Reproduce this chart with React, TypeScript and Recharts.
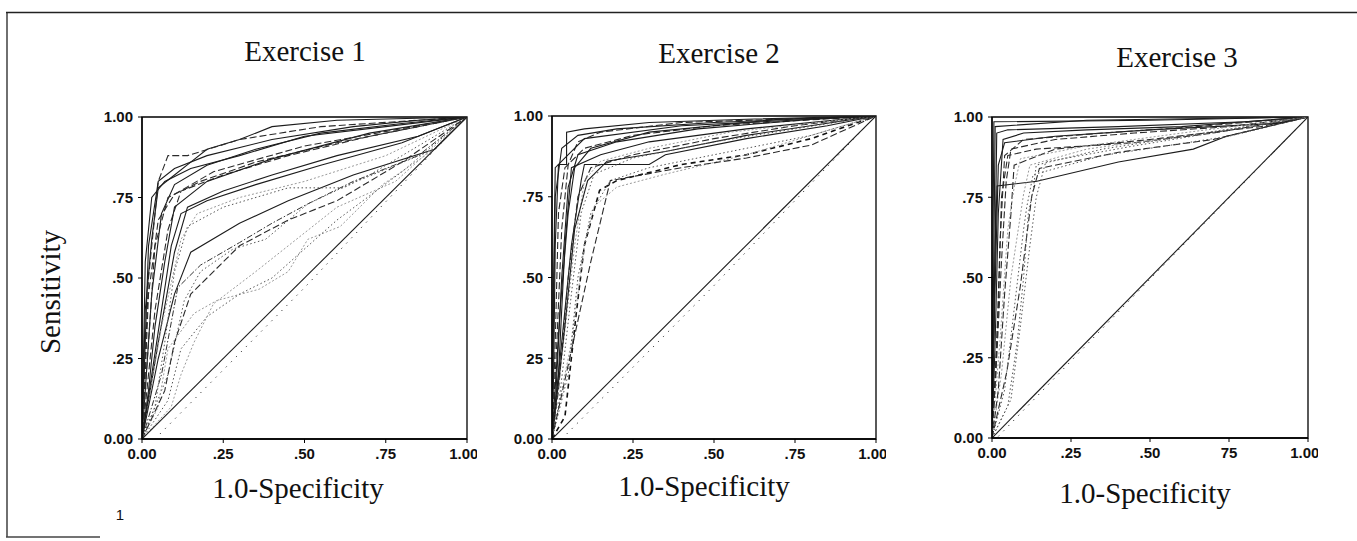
import React from "react";
import { LineChart, Line, XAxis, YAxis, ReferenceArea } from "recharts";

type Pt = [number, number];

const tickValues = [0, 0.25, 0.5, 0.75, 1];
const ex1XLabels = ["0.00", ".25", ".50", ".75", "1.00"];
const ex1YLabels = ["0.00", ".25", ".50", ".75", "1.00"];
const ex2XLabels = ["0.00", ".25", ".50", ".75", "1.00"];
const ex2YLabels = ["0.00", "25", ".50", ".75", "1.00"];
const ex3XLabels = ["0.00", ".25", ".50", "75", "1.00"];
const ex3YLabels = ["0.00", ".25", ".50", ".75", "1.00"];

const titles = ["Exercise 1", "Exercise 2", "Exercise 3"];

// chance line + the dotted reference line just under it
const diagonal: Pt[] = [[0, 0], [1, 1]];
const ex1RefDots: Pt[] = [[0.04, 0], [0.5, 0.47], [0.95, 0.95], [1, 1]];
const ex2RefDots: Pt[] = [[0.03, 0], [0.5, 0.475], [0.97, 0.97], [1, 1]];
const ex3RefDots: Pt[] = [[0.02, 0.005], [0.5, 0.495], [1, 1]];

// ROC curves (1-specificity, sensitivity)
const ex1Curves: Pt[][] = [
  [[0, 0], [0.01, 0.4], [0.03, 0.62], [0.05, 0.78], [0.1, 0.82], [0.15, 0.86], [0.2, 0.9], [0.3, 0.93], [0.4, 0.97], [0.6, 0.99], [1, 1]],
  [[0, 0], [0.02, 0.5], [0.05, 0.8], [0.08, 0.88], [0.14, 0.88], [0.3, 0.93], [0.55, 0.97], [1, 1]],
  [[0, 0], [0.03, 0.45], [0.06, 0.7], [0.1, 0.79], [0.2, 0.85], [0.35, 0.9], [0.55, 0.95], [0.8, 0.98], [1, 1]],
  [[0, 0], [0.04, 0.4], [0.08, 0.65], [0.12, 0.77], [0.25, 0.82], [0.45, 0.88], [0.7, 0.94], [1, 1]],
  [[0, 0], [0.05, 0.3], [0.1, 0.58], [0.14, 0.72], [0.25, 0.77], [0.4, 0.82], [0.6, 0.88], [0.85, 0.94], [1, 1]],
  [[0, 0], [0.06, 0.35], [0.12, 0.62], [0.17, 0.7], [0.3, 0.75], [0.5, 0.8], [0.75, 0.88], [1, 1]],
  [[0, 0], [0.05, 0.25], [0.1, 0.45], [0.15, 0.58], [0.3, 0.67], [0.45, 0.74], [0.65, 0.82], [0.9, 0.9], [1, 1]],
  [[0, 0], [0.06, 0.2], [0.11, 0.47], [0.18, 0.54], [0.3, 0.61], [0.4, 0.67], [0.51, 0.73], [0.65, 0.8], [0.85, 0.88], [1, 1]],
  [[0, 0], [0.08, 0.2], [0.13, 0.43], [0.18, 0.52], [0.28, 0.59], [0.38, 0.62], [0.51, 0.73], [0.7, 0.82], [1, 1]],
  [[0, 0], [0.05, 0.1], [0.08, 0.28], [0.16, 0.39], [0.23, 0.43], [0.36, 0.465], [0.45, 0.52], [0.51, 0.62], [0.61, 0.66], [0.74, 0.79], [0.9, 0.9], [1, 1]],
  [[0, 0], [0.07, 0.15], [0.1, 0.3], [0.15, 0.45], [0.2, 0.5], [0.3, 0.6], [0.45, 0.68], [0.6, 0.74], [0.8, 0.86], [1, 1]],
  [[0, 0], [0.08, 0.12], [0.12, 0.28], [0.2, 0.38], [0.3, 0.45], [0.4, 0.5], [0.6, 0.68], [0.8, 0.83], [1, 1]],
  [[0, 0], [0.01, 0.55], [0.03, 0.75], [0.07, 0.8], [0.15, 0.84], [0.3, 0.88], [0.5, 0.94], [0.75, 0.97], [1, 1]],
  [[0, 0], [0.02, 0.3], [0.04, 0.6], [0.08, 0.75], [0.18, 0.8], [0.35, 0.86], [0.6, 0.92], [1, 1]],
  [[0, 0], [0.03, 0.2], [0.06, 0.4], [0.09, 0.6], [0.12, 0.7], [0.2, 0.74], [0.35, 0.79], [0.55, 0.85], [0.8, 0.92], [1, 1]],
  [[0, 0], [0.04, 0.1], [0.07, 0.3], [0.1, 0.52], [0.14, 0.66], [0.25, 0.72], [0.45, 0.78], [0.62, 0.78], [0.66, 0.8], [0.9, 0.9], [1, 1]],
  [[0, 0], [0.02, 0.15], [0.04, 0.35], [0.07, 0.55], [0.1, 0.72], [0.2, 0.8], [0.4, 0.87], [0.7, 0.95], [1, 1]],
  [[0, 0], [0.01, 0.2], [0.02, 0.45], [0.05, 0.68], [0.1, 0.76], [0.22, 0.83], [0.5, 0.91], [1, 1]],
  [[0, 0], [0.02, 0.6], [0.05, 0.8], [0.1, 0.84], [0.2, 0.88], [0.4, 0.93], [0.65, 0.97], [0.85, 0.99], [1, 1]],
  [[0, 0], [0.09, 0.1], [0.12, 0.2], [0.16, 0.3], [0.22, 0.42], [0.35, 0.52], [0.45, 0.6], [0.6, 0.72], [0.78, 0.8], [1, 1]],
];
const ex1Kinds = ["solid", "dash", "solid", "dash", "solid", "grey", "solid", "dashdot", "dot", "grey", "dash", "dot", "solid", "dash", "solid", "dot", "solid", "dash", "solid", "grey"];

const ex2Curves: Pt[][] = [
  [[0, 0], [0.005, 0.2], [0.01, 0.6], [0.02, 0.85], [0.045, 0.85], [0.045, 0.95], [0.1, 0.96], [0.3, 0.98], [0.6, 0.99], [1, 1]],
  [[0, 0], [0.01, 0.3], [0.02, 0.7], [0.04, 0.84], [0.1, 0.9], [0.25, 0.94], [0.5, 0.97], [1, 1]],
  [[0, 0], [0.02, 0.2], [0.04, 0.6], [0.06, 0.84], [0.15, 0.88], [0.3, 0.92], [0.6, 0.96], [1, 1]],
  [[0, 0], [0.04, 0.07], [0.075, 0.39], [0.1, 0.6], [0.147, 0.77], [0.2, 0.8], [0.4, 0.85], [0.6, 0.88], [0.8, 0.93], [1, 1]],
  [[0, 0], [0.06, 0.3], [0.1, 0.6], [0.13, 0.72], [0.2, 0.78], [0.35, 0.82], [0.6, 0.88], [1, 1]],
  [[0, 0], [0.03, 0.3], [0.06, 0.6], [0.09, 0.8], [0.1, 0.85], [0.3, 0.85], [0.35, 0.88], [0.6, 0.93], [0.85, 0.97], [1, 1]],
  [[0, 0], [0.02, 0.15], [0.05, 0.5], [0.08, 0.75], [0.12, 0.84], [0.25, 0.88], [0.5, 0.93], [0.75, 0.97], [1, 1]],
  [[0, 0], [0.01, 0.1], [0.03, 0.5], [0.05, 0.78], [0.08, 0.88], [0.2, 0.92], [0.45, 0.96], [0.8, 0.99], [1, 1]],
  [[0, 0], [0.05, 0.2], [0.08, 0.5], [0.12, 0.7], [0.18, 0.8], [0.3, 0.84], [0.55, 0.89], [0.8, 0.94], [1, 1]],
  [[0, 0], [0.03, 0.25], [0.07, 0.6], [0.1, 0.8], [0.15, 0.86], [0.3, 0.9], [0.55, 0.95], [1, 1]],
  [[0, 0], [0.005, 0.4], [0.01, 0.75], [0.03, 0.9], [0.08, 0.94], [0.2, 0.96], [0.5, 0.98], [1, 1]],
  [[0, 0], [0.015, 0.3], [0.03, 0.65], [0.05, 0.85], [0.08, 0.92], [0.15, 0.95], [0.4, 0.98], [1, 1]],
  [[0, 0], [0.04, 0.35], [0.07, 0.65], [0.11, 0.8], [0.17, 0.86], [0.35, 0.89], [0.6, 0.94], [1, 1]],
  [[0, 0], [0.02, 0.1], [0.06, 0.45], [0.09, 0.7], [0.13, 0.82], [0.25, 0.87], [0.5, 0.92], [1, 1]],
  [[0, 0], [0.12, 0.55], [0.18, 0.8], [0.4, 0.84], [0.6, 0.87], [0.8, 0.91], [1, 1]],
  [[0, 0], [0.025, 0.4], [0.05, 0.7], [0.07, 0.84], [0.12, 0.9], [0.3, 0.95], [0.7, 0.99], [1, 1]],
  [[0, 0], [0.002, 0.17], [0.005, 0.5], [0.01, 0.84], [0.03, 0.86], [0.1, 0.93], [0.4, 0.97], [1, 1]],
];
const ex2Kinds = ["solid", "dash", "solid", "dashBold", "grey", "solid", "dash", "solid", "dot", "grey", "solid", "dash", "solid", "dot", "dash", "solid", "solid"];

const ex3Curves: Pt[][] = [
  [[0, 0], [0.005, 0.5], [0.01, 0.97], [0.3, 0.99], [1, 1]],
  [[0, 0], [0.01, 0.6], [0.015, 0.95], [0.05, 0.96], [0.4, 0.97], [0.8, 0.985], [1, 1]],
  [[0, 0], [0.005, 0.3], [0.01, 0.6], [0.016, 0.785], [0.142, 0.8], [0.4, 0.86], [0.637, 0.9], [0.742, 0.94], [1, 1]],
  [[0, 0], [0.02, 0.4], [0.03, 0.75], [0.05, 0.88], [0.14, 0.9], [0.45, 0.92], [0.7, 0.95], [1, 1]],
  [[0, 0], [0.047, 0.207], [0.09, 0.475], [0.126, 0.754], [0.15, 0.84], [0.4, 0.89], [0.7, 0.93], [1, 1]],
  [[0, 0], [0.03, 0.2], [0.06, 0.5], [0.1, 0.76], [0.12, 0.85], [0.3, 0.9], [0.6, 0.94], [1, 1]],
  [[0, 0], [0.01, 0.3], [0.02, 0.7], [0.035, 0.93], [0.1, 0.95], [0.3, 0.96], [0.6, 0.97], [1, 1]],
  [[0, 0], [0.02, 0.15], [0.04, 0.45], [0.06, 0.7], [0.07, 0.85], [0.2, 0.9], [0.5, 0.93], [0.85, 0.97], [1, 1]],
  [[0, 0], [0.04, 0.15], [0.07, 0.4], [0.1, 0.65], [0.11, 0.72], [0.13, 0.82], [0.35, 0.88], [0.75, 0.94], [1, 1]],
  [[0, 0], [0.008, 0.4], [0.02, 0.85], [0.04, 0.92], [0.2, 0.94], [0.5, 0.96], [0.9, 0.98], [1, 1]],
  [[0, 0], [0.015, 0.25], [0.03, 0.55], [0.045, 0.8], [0.06, 0.9], [0.2, 0.93], [0.45, 0.95], [0.75, 0.97], [1, 1]],
  [[0, 0], [0.05, 0.1], [0.08, 0.3], [0.1, 0.5], [0.115, 0.7], [0.13, 0.77], [0.14, 0.85], [0.35, 0.9], [1, 1]],
  [[0, 0], [0.003, 0.6], [0.006, 0.985], [0.5, 0.99], [1, 1]],
  [[0, 0], [0.025, 0.3], [0.05, 0.65], [0.07, 0.78], [0.09, 0.87], [0.3, 0.91], [0.6, 0.95], [1, 1]],
  [[0, 0], [0.012, 0.2], [0.025, 0.6], [0.04, 0.88], [0.1, 0.93], [0.35, 0.95], [0.65, 0.97], [1, 1]],
  [[0, 0], [0.06, 0.12], [0.09, 0.35], [0.12, 0.6], [0.14, 0.75], [0.17, 0.86], [0.45, 0.91], [1, 1]],
];
const ex3Kinds = ["solid", "solid", "solid", "dash", "dash", "grey", "solid", "dash", "dot", "solid", "dash", "dot", "solid", "grey", "dash", "dot"];

const lineLook: Record<string, { stroke: string; width: number; dash?: string }> = {
  solid: { stroke: "#1c1c1c", width: 1.1 },
  dash: { stroke: "#2a2a2a", width: 1.1, dash: "7 3" },
  dashBold: { stroke: "#111", width: 1.6, dash: "5 4" },
  dashdot: { stroke: "#333", width: 1, dash: "6 2 1.5 2" },
  dot: { stroke: "#555", width: 1, dash: "1.5 2.5" },
  grey: { stroke: "#9a9a9a", width: 1, dash: "2 2" },
  ref: { stroke: "#333", width: 1, dash: "1.2 6" },
};

const tickFont = { fontFamily: "'Liberation Sans Narrow', 'Liberation Sans', Arial, sans-serif", fontSize: 15, fontWeight: 700, fill: "#111" };
const serif = "'Liberation Serif', 'Times New Roman', serif";

function RocPanel({ left, top, width, height, curves, kinds, refDots, xLabels, yLabels }: {
  left: number; top: number; width: number; height: number;
  curves: Pt[][]; kinds: string[]; refDots: Pt[]; xLabels: string[]; yLabels: string[];
}) {
  const series = [
    ...curves.map((c, i) => ({ pts: c, kind: kinds[i] })),
    { pts: refDots, kind: "ref" },
    { pts: diagonal, kind: "solid" },
  ];
  return (
    <div style={{ position: "absolute", left, top }}>
      <LineChart width={width} height={height} margin={{ top: 10, right: 10, bottom: 0, left: 0 }}>
        <XAxis
          type="number"
          dataKey="x"
          domain={[0, 1]}
          ticks={tickValues}
          tickFormatter={(_v: number, i: number) => xLabels[i]}
          tick={tickFont}
          tickSize={4}
          tickMargin={5}
          height={30}
          axisLine={{ stroke: "#000", strokeWidth: 1.3 }}
          tickLine={{ stroke: "#000" }}
          allowDataOverflow
        />
        <YAxis
          type="number"
          dataKey="y"
          domain={[0, 1]}
          ticks={tickValues}
          tickFormatter={(_v: number, i: number) => yLabels[i]}
          tick={tickFont}
          tickSize={4}
          tickMargin={5}
          width={50}
          axisLine={{ stroke: "#000", strokeWidth: 1.3 }}
          tickLine={{ stroke: "#000" }}
          allowDataOverflow
        />
        <ReferenceArea x1={0} x2={1} y1={0} y2={1} fill="none" stroke="#000" strokeWidth={1.3} />
        {series.map((s, i) => {
          const look = lineLook[s.kind];
          return (
            <Line
              key={i}
              data={s.pts.map(([x, y]) => ({ x, y }))}
              dataKey="y"
              type="linear"
              stroke={look.stroke}
              strokeWidth={look.width}
              strokeDasharray={look.dash}
              dot={false}
              activeDot={false}
              isAnimationActive={false}
            />
          );
        })}
      </LineChart>
    </div>
  );
}

export default function App() {
  return (
    <div style={{ position: "absolute", left: 0, top: 0, width: 1357, height: 541, background: "#fff", overflow: "hidden" }}>
      <svg width={1357} height={541} style={{ position: "absolute", left: 0, top: 0 }}>
        <line x1={6} y1={12.5} x2={1357} y2={12.5} stroke="#222" strokeWidth={1.3} />
        <line x1={7} y1={12} x2={7} y2={537} stroke="#222" strokeWidth={1.3} />
        <line x1={6} y1={537} x2={100} y2={537} stroke="#444" strokeWidth={1.3} />
        <text x={305} y={61} textAnchor="middle" fontFamily={serif} fontSize={29} fill="#111">{titles[0]}</text>
        <text x={719} y={63} textAnchor="middle" fontFamily={serif} fontSize={29} fill="#111">{titles[1]}</text>
        <text x={1177} y={67} textAnchor="middle" fontFamily={serif} fontSize={29} fill="#111">{titles[2]}</text>
        <text transform="translate(60,292) rotate(-90)" textAnchor="middle" fontFamily={serif} fontSize={29} fill="#111">Sensitivity</text>
        <text x={298} y={498} textAnchor="middle" fontFamily={serif} fontSize={29} fill="#111">1.0-Specificity</text>
        <text x={704} y={496} textAnchor="middle" fontFamily={serif} fontSize={29} fill="#111">1.0-Specificity</text>
        <text x={1145} y={503} textAnchor="middle" fontFamily={serif} fontSize={29} fill="#111">1.0-Specificity</text>
        <text x={120} y={520} textAnchor="middle" fontFamily="'Liberation Sans', Arial, sans-serif" fontSize={15} fill="#111">1</text>
      </svg>
      <RocPanel left={92} top={107} width={385} height={362} curves={ex1Curves} kinds={ex1Kinds} refDots={ex1RefDots} xLabels={ex1XLabels} yLabels={ex1YLabels} />
      <RocPanel left={502} top={106} width={384} height={363} curves={ex2Curves} kinds={ex2Kinds} refDots={ex2RefDots} xLabels={ex2XLabels} yLabels={ex2YLabels} />
      <RocPanel left={942} top={107} width={376} height={361} curves={ex3Curves} kinds={ex3Kinds} refDots={ex3RefDots} xLabels={ex3XLabels} yLabels={ex3YLabels} />
    </div>
  );
}
